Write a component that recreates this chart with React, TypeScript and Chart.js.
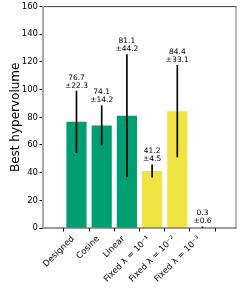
import React, { useEffect, useRef } from "react";
import { Chart, registerables } from "chart.js";

Chart.register(...registerables);

const categories = ["Designed", "Cosine", "Linear", "Fixed λ = 10⁻¹", "Fixed λ = 10⁻²", "Fixed λ = 10⁻³"];
const groups = ["schedule", "schedule", "schedule", "fixed", "fixed", "fixed"];
const means = [76.7, 74.1, 81.1, 41.2, 84.4, 0.3];
const stds = [22.3, 14.2, 44.2, 4.5, 33.1, 0.6];
const yTicks = [0, 20, 40, 60, 80, 100, 120, 140, 160];

const GROUP_COLORS: Record<string, string> = { schedule: "#009E73", fixed: "#F0E442" };
const FONT = "'DejaVu Sans', sans-serif";
const TICK_FONT_SIZE = 8.5;

export default function App() {
  const ref = useRef<HTMLCanvasElement | null>(null);

  useEffect(() => {
    if (!ref.current) return;

    const framePlugin = {
      id: "frame",
      afterDraw(chart: any) {
        const { ctx, chartArea: a } = chart;
        ctx.save();
        ctx.fillStyle = "#3a3a3a";
        ctx.fillRect(a.left, a.top - 0.5, a.right - a.left + 0.5, 1);
        ctx.fillRect(a.left, a.bottom - 0.5, a.right - a.left + 0.5, 1);
        ctx.fillStyle = "#707070";
        ctx.fillRect(a.right - 0.5, a.top - 0.5, 1, a.bottom - a.top + 1);
        ctx.fillStyle = "#a8a8a8";
        ctx.fillRect(a.left - 1, a.top - 0.5, 2, a.bottom - a.top + 1);
        ctx.restore();
      },
    };

    // rotated category labels, anchored like matplotlib (ha="right", rotation=45)
    const xLabelPlugin = {
      id: "xlabels",
      afterDraw(chart: any) {
        const { ctx, scales, chartArea: a } = chart;
        const h = TICK_FONT_SIZE * 1.17;
        const k = 0.3536 * h;
        const y0 = a.bottom + 3.5 + 2.5;
        ctx.save();
        ctx.fillStyle = "#000";
        ctx.font = `${TICK_FONT_SIZE}px ${FONT}`;
        ctx.textAlign = "right";
        ctx.textBaseline = "middle";
        categories.forEach((label, i) => {
          const x = scales.x.getPixelForValue(i);
          ctx.save();
          ctx.translate(x - k, y0 + k);
          ctx.rotate(-Math.PI / 4);
          ctx.fillText(label, 0, 0);
          ctx.restore();
        });
        ctx.restore();
      },
    };

    const annotPlugin = {
      id: "annot",
      afterDatasetsDraw(chart: any) {
        const { ctx, scales } = chart;
        ctx.save();
        ctx.fillStyle = "#000";
        ctx.textAlign = "center";
        ctx.textBaseline = "alphabetic";
        ctx.font = `7.5px ${FONT}`;
        means.forEach((m, i) => {
          const x = scales.x.getPixelForValue(i);
          const yTop = scales.y.getPixelForValue(m + stds[i]);
          const base = yTop - 3.5;
          ctx.fillText(`±${stds[i].toFixed(1)}`, x, base);
          ctx.fillText(`${m.toFixed(1)}`, x, base - 8);
        });
        ctx.restore();
      },
    };

    const chart = new Chart(ref.current, {
      type: "bar",
      data: {
        datasets: [
          {
            label: "err",
            data: means.map((m, i) => ({ x: i, y: [m - stds[i], m + stds[i]] })) as any,
            backgroundColor: "#000",
            barThickness: 1,
            grouped: false,
            order: 0,
          },
          {
            label: "mean",
            data: means.map((m, i) => ({ x: i, y: m })) as any,
            backgroundColor: groups.map((g) => GROUP_COLORS[g]),
            barPercentage: 0.8,
            categoryPercentage: 1,
            grouped: false,
            order: 1,
          },
        ],
      },
      options: {
        animation: false,
        responsive: false,
        devicePixelRatio: 1,
        layout: { padding: { top: 6, right: 13, left: 0, bottom: 0 } },
        plugins: { legend: { display: false }, tooltip: { enabled: false } },
        scales: {
          x: {
            type: "linear",
            min: -0.69,
            max: 5.69,
            afterBuildTicks: (scale: any) => {
              scale.ticks = categories.map((_, i) => ({ value: i }));
            },
            afterFit: (scale: any) => {
              scale.height = 63;
            },
            ticks: { display: false },
            grid: { drawOnChartArea: false, drawTicks: true, tickLength: 3.5, color: "#000" },
            border: { display: false },
          },
          y: {
            type: "linear",
            min: 0,
            max: 160,
            afterBuildTicks: (scale: any) => {
              scale.ticks = yTicks.map((v) => ({ value: v }));
            },
            afterFit: (scale: any) => {
              scale.width = 43;
            },
            ticks: {
              padding: 1.5,
              color: "#000",
              font: { family: FONT, size: TICK_FONT_SIZE },
            },
            grid: { drawOnChartArea: false, drawTicks: true, tickLength: 3.5, color: "#000" },
            border: { display: false },
            title: {
              display: true,
              text: "Best hypervolume",
              color: "#000",
              font: { family: FONT, size: 12 },
              padding: { top: 8.5, bottom: 0 },
            },
          },
        },
      },
      plugins: [framePlugin, xLabelPlugin, annotPlugin],
    });

    return () => chart.destroy();
  }, []);

  return (
    <div style={{ position: "absolute", left: 0, top: 0, width: 249, height: 291, background: "#fff" }}>
      <canvas ref={ref} width={249} height={291} style={{ display: "block" }} />
    </div>
  );
}
